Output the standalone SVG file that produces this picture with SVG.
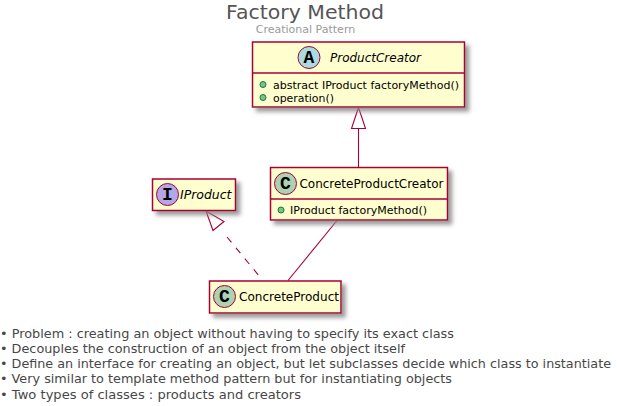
<svg xmlns="http://www.w3.org/2000/svg" width="617" height="406" viewBox="0 0 617 406">
<defs>
<filter id="sh" x="-10%" y="-20%" width="125%" height="150%"><feGaussianBlur in="SourceAlpha" stdDeviation="2"/><feOffset dx="4" dy="4"/><feColorMatrix type="matrix" values="0 0 0 0 0.25 0 0 0 0 0.25 0 0 0 0 0.25 0 0 0 0.85 0"/><feMerge><feMergeNode/><feMergeNode in="SourceGraphic"/></feMerge></filter>
</defs>
<style>
text{font-family:"DejaVu Sans",sans-serif;}
.box{fill:#FEFECE;stroke:#A80036;stroke-width:1.5;}
.div{stroke:#A80036;stroke-width:1.5;fill:none;}
.spot{stroke:#A80036;stroke-width:1;}
.glyph{font-family:"Liberation Mono",monospace;font-weight:bold;font-size:18px;fill:#000;text-anchor:middle;}
.name{font-size:12px;fill:#000;}
.ital{font-style:italic;}
.mem{font-size:11px;fill:#000;}
.dot{fill:#84BE84;stroke:#038048;stroke-width:1;}
.foot{font-size:12.800px;fill:#474747;}
.conn{stroke:#A80036;stroke-width:1.100;fill:none;}
</style>
<g id="title">
<text x="305" y="19" font-size="20" fill="#555555" text-anchor="middle" textLength="158" lengthAdjust="spacingAndGlyphs">Factory Method</text>
<text x="305.500" y="33" font-size="11" fill="#9a9a9a" text-anchor="middle">Creational Pattern</text>
</g>
<g id="connectors">
<polygon class="conn" points="358.500,107.500 351.500,128.500 365.500,128.500"/>
<line class="conn" x1="358.500" y1="128.500" x2="358.500" y2="167"/>
<polygon class="conn" points="206,211 213,230.500 224,221.500"/>
<line class="conn" x1="227" y1="237" x2="260" y2="277" stroke-dasharray="7 7"/>
<line class="conn" x1="337" y1="220.500" x2="288" y2="280.500"/>
</g>
<g id="ProductCreator">
<rect class="box" filter="url(#sh)" x="252.500" y="42" width="212" height="65"/>
<line class="div" x1="252.500" y1="73" x2="464.500" y2="73"/>
<circle class="spot" cx="309" cy="57.500" r="11" fill="#A9DCDF"/>
<text class="glyph" x="309" y="63">A</text>
<text class="name ital" x="330" y="62" textLength="91" lengthAdjust="spacingAndGlyphs">ProductCreator</text>
<circle class="dot" cx="263" cy="84.500" r="3"/>
<text class="mem" x="273" y="88.500" textLength="186" lengthAdjust="spacingAndGlyphs">abstract IProduct factoryMethod()</text>
<circle class="dot" cx="263" cy="97.500" r="3"/>
<text class="mem" x="273" y="101.500" textLength="61" lengthAdjust="spacingAndGlyphs">operation()</text>
</g>
<g id="ConcreteProductCreator">
<rect class="box" filter="url(#sh)" x="270.500" y="167.500" width="177" height="52.500"/>
<line class="div" x1="270.500" y1="199" x2="447.500" y2="199"/>
<circle class="spot" cx="285.500" cy="183.500" r="11" fill="#ADD1B2"/>
<text class="glyph" x="285.500" y="189">C</text>
<text class="name" x="299.500" y="188" textLength="144" lengthAdjust="spacingAndGlyphs">ConcreteProductCreator</text>
<circle class="dot" cx="281" cy="210" r="3"/>
<text class="mem" x="290" y="214" textLength="137" lengthAdjust="spacingAndGlyphs">IProduct factoryMethod()</text>
</g>
<g id="IProduct">
<rect class="box" filter="url(#sh)" x="152.500" y="179" width="83" height="31.500"/>
<circle class="spot" cx="167.500" cy="194.500" r="11" fill="#B4A7E5"/>
<text class="glyph" x="167.500" y="200">I</text>
<text class="name ital" x="180" y="199" textLength="51.500" lengthAdjust="spacingAndGlyphs">IProduct</text>
</g>
<g id="ConcreteProduct">
<rect class="box" filter="url(#sh)" x="209.500" y="281" width="131.500" height="32"/>
<circle class="spot" cx="224.500" cy="296.500" r="11" fill="#ADD1B2"/>
<text class="glyph" x="224.500" y="302">C</text>
<text class="name" x="239" y="301" textLength="100" lengthAdjust="spacingAndGlyphs">ConcreteProduct</text>
</g>
<g id="notes">
<text class="foot" x="0" y="338" textLength="454" lengthAdjust="spacingAndGlyphs">• Problem : creating an object without having to specify its exact class</text>
<text class="foot" x="0" y="353" textLength="405" lengthAdjust="spacingAndGlyphs">• Decouples the construction of an object from the object itself</text>
<text class="foot" x="0" y="368" textLength="611" lengthAdjust="spacingAndGlyphs">• Define an interface for creating an object, but let subclasses decide which class to instantiate</text>
<text class="foot" x="0" y="383" textLength="452" lengthAdjust="spacingAndGlyphs">• Very similar to template method pattern but for instantiating objects</text>
<text class="foot" x="0" y="399" textLength="301" lengthAdjust="spacingAndGlyphs">• Two types of classes : products and creators</text>
</g>
</svg>
